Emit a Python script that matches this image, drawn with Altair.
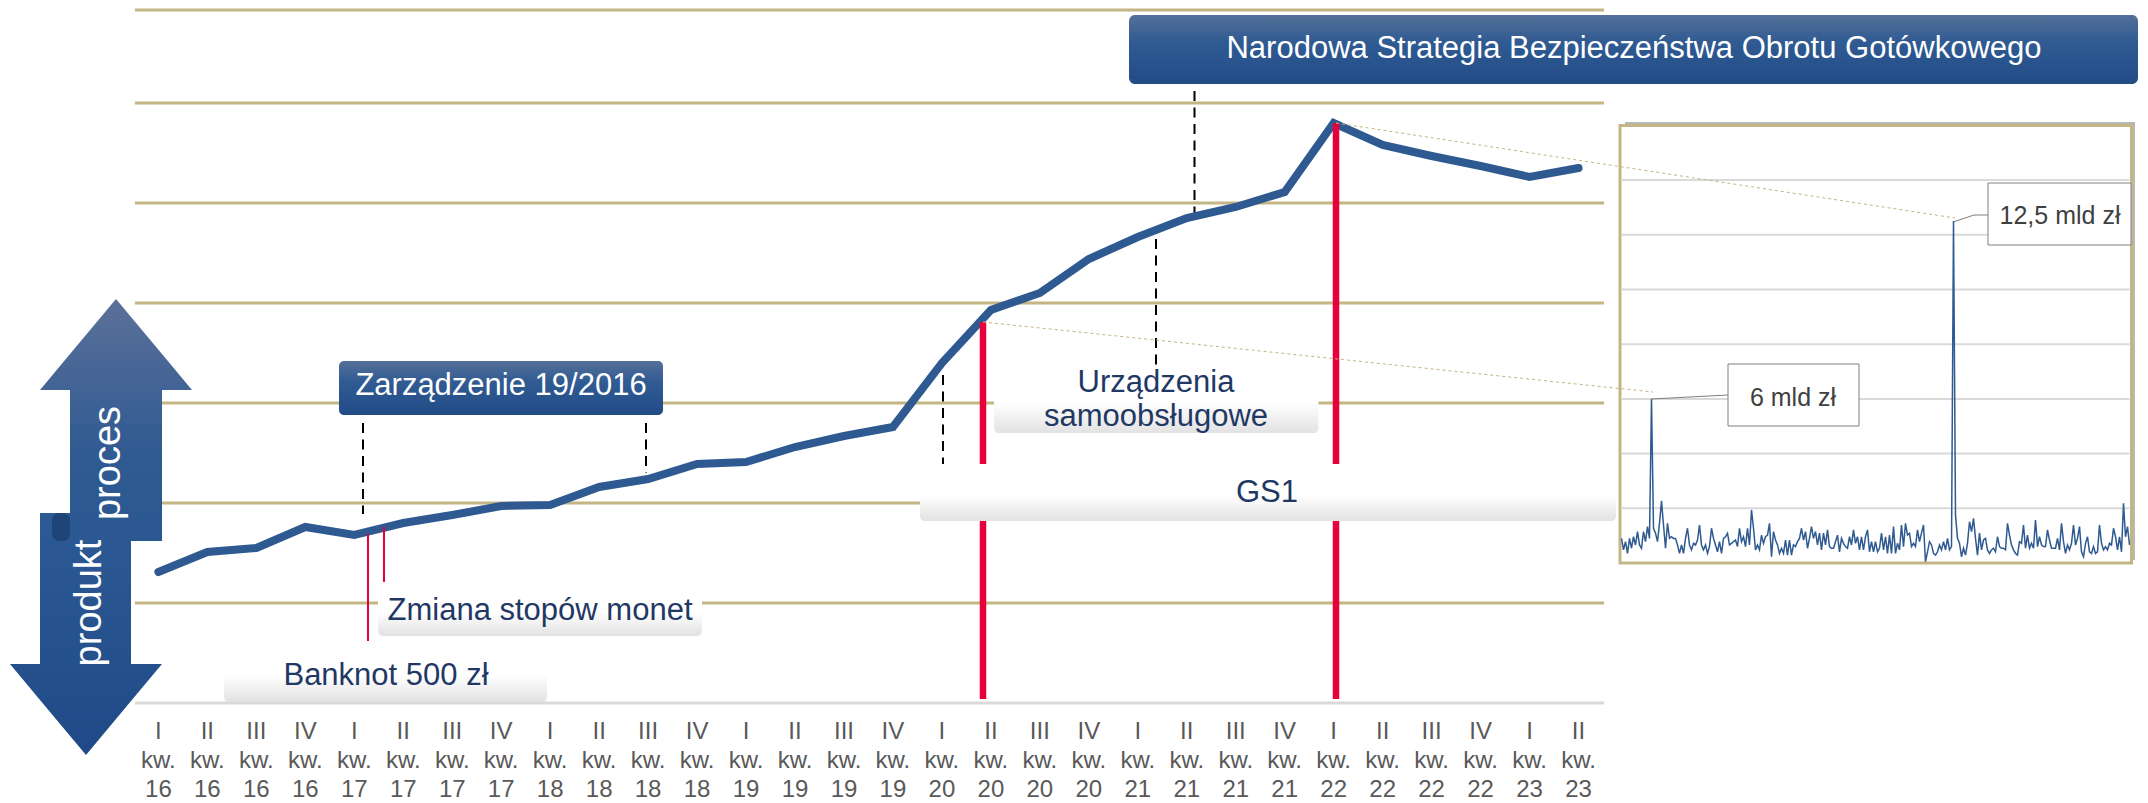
import altair as alt
import pandas as pd

FONT = "Liberation Sans"
NAVY_TEXT = "#1F3864"
TAN = "#C4B584"
RED = "#E6003C"
BLUE = "#2E5A91"

# ---- main series (quarters, arbitrary index value) ----
quarters = ["I", "II", "III", "IV", "I", "II", "III", "IV", "I", "II", "III", "IV", "I", "II", "III",
            "IV", "I", "II", "III", "IV", "I", "II", "III", "IV", "I", "II", "III", "IV", "I", "II"]
years = ["16"] * 4 + ["17"] * 4 + ["18"] * 4 + ["19"] * 4 + ["20"] * 4 + ["21"] * 4 + ["22"] * 4 + ["23"] * 2
main_values = [1.31, 1.51, 1.55, 1.76, 1.68, 1.80, 1.88, 1.97, 1.98, 2.16, 2.24, 2.39, 2.41, 2.56, 2.67,
               2.76, 3.40, 3.93, 4.10, 4.44, 4.66, 4.85, 4.96, 5.11, 5.80, 5.58, 5.47, 5.37, 5.26, 5.35]
grid_values = [1, 2, 3, 4, 5, 6, 6.93]

# ---- inset series (daily, mld zł) ----
inset_values = [
    0.90, 0.48, 0.78, 0.35, 0.90, 0.54, 0.96, 0.66, 1.15, 0.66, 0.54, 1.15, 0.78, 1.33, 0.90,
    6.00,
    1.27, 1.09, 0.78, 1.45, 2.27, 1.39, 0.54, 1.45, 0.90, 0.96, 0.90, 0.90, 0.66, 0.35, 0.66, 0.35,
    0.90, 1.27, 0.66, 0.48, 0.72, 0.66, 0.84, 1.39, 0.66, 0.48, 0.66, 0.35, 0.60, 1.27, 0.90, 0.66,
    0.41, 0.78, 0.35, 0.90, 0.96, 1.09, 0.66, 0.72, 0.78, 0.84, 0.60, 1.27, 0.78, 0.96, 0.60, 1.27,
    0.66, 1.94, 1.27, 0.48, 0.66, 0.48, 1.02, 0.72, 0.96, 1.02, 1.45, 0.23, 1.15, 0.84, 0.66, 0.35,
    0.54, 0.35, 0.84, 0.29, 0.84, 0.29, 0.66, 0.60, 0.78, 0.90, 1.27, 0.84, 1.15, 0.54, 0.90, 1.33,
    0.90, 1.15, 0.66, 1.09, 0.48, 1.09, 0.66, 1.21, 0.60, 0.54, 0.54, 0.78, 1.02, 0.41, 0.90, 0.72,
    0.60, 0.54, 0.96, 0.66, 1.21, 0.72, 0.96, 0.48, 0.96, 0.48, 0.96, 1.21, 0.41, 0.78, 0.41, 0.78, 0.41,
    0.54, 1.09, 0.48, 0.96, 0.35, 1.02, 0.35, 1.33, 0.35, 0.72, 0.48, 1.39, 0.60, 1.45, 1.02, 1.09,
    0.60, 0.72, 0.60, 1.21, 0.78, 1.09, 1.39, 0.05, 0.41, 0.78, 0.66, 0.35, 0.29, 0.41, 0.66, 0.48,
    0.78, 0.48, 0.90, 0.48, 0.60,
    12.50,
    1.76, 0.90, 0.72, 0.23, 0.54, 0.29, 0.72, 1.51, 1.15, 1.63, 0.90, 0.29, 1.09, 0.48, 0.84, 0.90,
    0.48, 0.35, 0.48, 0.54, 0.41, 0.96, 0.60, 0.54, 0.54, 0.48, 1.45,
    1.02, 0.66, 0.48, 0.35, 0.29, 0.78, 0.72, 1.39, 0.54, 1.02, 0.54, 0.72, 0.54, 1.57, 0.60, 0.96,
    0.66, 0.60, 0.60, 1.21, 0.84, 0.54, 0.54, 0.54, 0.90, 0.48, 1.45, 0.78, 0.35, 0.66, 0.48, 0.72,
    1.39, 0.66, 0.90, 1.33, 0.41, 0.23, 0.72, 0.96, 0.41, 0.35, 0.60, 0.35, 0.41, 1.39, 0.72, 0.48,
    0.60, 0.48, 0.72, 0.66, 1.27, 0.96, 0.48, 0.96, 0.41, 2.18, 0.96, 1.33, 0.66,
]
inset_grid = [2, 4, 6, 8, 10, 12, 14]

# ---- scales ----
X_PAGE = alt.Scale(domain=[8, 2140], range=[0, 2132])
Y_PAGE = alt.Scale(domain=[8, 803], range=[0, 795])
X_Q = alt.Scale(domain=[0, 29], range=[158.4 - 8, 158.4 + 29 * 48.97 - 8])
Y_V = alt.Scale(domain=[0, 7], range=[703 - 8, 3 - 8])
X_D = alt.Scale(domain=[0, 254], range=[1621.5 - 8, 1621.5 + 508 - 8])
Y_B = alt.Scale(domain=[0, 16], range=[563 - 8, 125.4 - 8])


def grad(*stops):
    return alt.LinearGradient(
        gradient="linear", x1=0, x2=0, y1=0, y2=1,
        stops=[alt.GradientStop(color=c, offset=o) for o, c in stops],
    )


def px(field):
    return alt.X(field, type="quantitative", scale=X_PAGE, axis=None)


def py(field):
    return alt.Y(field, type="quantitative", scale=Y_PAGE, axis=None)


def frame(**cols):
    return pd.DataFrame(cols)


def box(x0, x1, y0, y1, fill, **kw):
    return alt.Chart(frame(a=[x0], b=[x1], c=[y0], d=[y1])).mark_rect(color=fill, **kw).encode(
        x=px("a"), x2="b", y=py("c"), y2="d")


def label(x, y, text, size=31, color=NAVY_TEXT, **kw):
    return alt.Chart(frame(a=[x], c=[y], t=[text])).mark_text(
        font=FONT, fontSize=size, color=color, **kw).encode(x=px("a"), y=py("c"), text="t:N")


def seg(x0, y0, x1, y1, **kw):
    return alt.Chart(frame(a=[x0], b=[x1], c=[y0], d=[y1])).mark_rule(**kw).encode(
        x=px("a"), x2="b", y=py("c"), y2="d")


def poly(xs, ys, stroke, width):
    return alt.Chart(frame(a=xs, c=ys, o=list(range(len(xs))))).mark_line(
        color=stroke, strokeWidth=width).encode(x=px("a"), y=py("c"), order="o:Q")


def arrow(xs, top, bottom, fill):
    return alt.Chart(frame(a=xs, c=top, d=bottom)).mark_area(color=fill, interpolate="linear").encode(
        x=px("a"), y=py("c"), y2="d")


WHITE_GREY = grad((0, "#FFFFFF"), (0.55, "#FFFFFF"), (1, "#E2E2E2"))
BLUE_BOX = grad((0, "#547099"), (0.4, "#2F5A92"), (1, "#234C86"))

layers = []

# gridlines and baseline
qdf = pd.DataFrame({"q": list(range(30)), "v": main_values, "q_lab": quarters, "yr": years})
gdf = pd.DataFrame({"g": grid_values, "a": [-0.48] * len(grid_values), "b": [29.52] * len(grid_values)})
layers.append(alt.Chart(gdf).mark_rule(color=TAN, strokeWidth=3).encode(
    x=alt.X("a:Q", scale=X_Q, axis=None), x2="b", y=alt.Y("g:Q", scale=Y_V, axis=None)))
layers.append(seg(135, 703, 1604, 703, color="#D9D9D9", strokeWidth=3))

# dashed markers
for x0, y0, y1 in [(363, 423, 514), (646, 423, 473), (943, 375, 467), (1156, 239, 365), (1194.5, 91, 214)]:
    layers.append(seg(x0, y0, x0, y1, color="#000000", strokeWidth=2, strokeDash=[10, 6.5]))

# main line
layers.append(alt.Chart(qdf).mark_line(color=BLUE, strokeWidth=8, strokeCap="round", strokeJoin="miter").encode(
    x=alt.X("q:Q", scale=X_Q, axis=None), y=alt.Y("v:Q", scale=Y_V, axis=None)))

# red markers
layers.append(seg(368, 534, 368, 641, color=RED, strokeWidth=2))
layers.append(seg(384, 527, 384, 582, color=RED, strokeWidth=2))
layers.append(seg(983, 322, 983, 699, color=RED, strokeWidth=6.5))
layers.append(seg(1336, 123, 1336, 699, color=RED, strokeWidth=6.5))

# light callouts
layers.append(box(378, 702, 582, 636, WHITE_GREY, cornerRadius=5))
layers.append(box(224, 547, 641, 702, WHITE_GREY, cornerRadius=5))
layers.append(box(994, 1318.5, 365, 433, WHITE_GREY, cornerRadius=5))
layers.append(box(920, 1616, 464, 521, WHITE_GREY, cornerRadius=5))
layers.append(label(540, 611, "Zmiana stopów monet"))
layers.append(label(386, 676, "Banknot 500 zł"))
layers.append(label(1156, 383, "Urządzenia"))
layers.append(label(1156, 417, "samoobsługowe"))
layers.append(label(1267, 493, "GS1"))

# dark banners
layers.append(box(339, 663, 361, 415, BLUE_BOX, cornerRadius=5))
layers.append(label(501, 386, "Zarządzenie 19/2016", color="#FFFFFF"))
layers.append(box(1129, 2138, 15, 84, BLUE_BOX, cornerRadius=6))
layers.append(label(1634, 49, "Narodowa Strategia Bezpieczeństwa Obrotu Gotówkowego", size=31, color="#FFFFFF"))

# double arrow
layers.append(arrow([10, 40, 40, 86, 131, 131, 162], [664, 664, 513, 513, 513, 664, 664],
                    [664, 700, 700, 755, 701, 701, 664],
                    grad((0, "#2D5A94"), (1, "#1F4A87"))))
layers.append(arrow([40, 70, 70, 116, 162, 162, 192], [390, 354, 354, 299, 354, 354, 390],
                    [390, 390, 541, 541, 541, 390, 390],
                    grad((0, "#5B7099"), (0.65, "#2F5A92"), (1, "#2B5891"))))
layers.append(box(52, 70, 513, 541, "#1F4578", cornerRadius=7))
layers.append(label(109, 463, "proces", size=38, color="#FFFFFF", angle=270))
layers.append(label(90, 603, "produkt", size=38, color="#FFFFFF", angle=270))

# quarter labels
layers.append(alt.Chart(qdf.assign(lab=[f"{a}\nkw.\n{b}" for a, b in zip(quarters, years)], row=[720] * 30)).mark_text(
    font=FONT, fontSize=24, color="#595959", lineBreak="\n", lineHeight=29, baseline="top").encode(
    x=alt.X("q:Q", scale=X_Q, axis=None), y=py("row"), text="lab:N"))

# inset
layers.append(box(1625, 2135, 122, 560, "#9A9A9A", opacity=0.7))
layers.append(box(1620, 2131.5, 125.5, 563, "#FFFFFF", stroke=TAN, strokeWidth=3))
igdf = pd.DataFrame({"g": inset_grid, "a": [0] * 7, "b": [254] * 7})
layers.append(alt.Chart(igdf).mark_rule(color="#D9D9D9", strokeWidth=2).encode(
    x=alt.X("a:Q", scale=X_D, axis=None), x2="b", y=alt.Y("g:Q", scale=Y_B, axis=None)))
idf = pd.DataFrame({"d": list(range(len(inset_values))), "v": inset_values})
layers.append(alt.Chart(idf).mark_line(color=BLUE, strokeWidth=1.5).encode(
    x=alt.X("d:Q", scale=X_D, axis=None), y=alt.Y("v:Q", scale=Y_B, axis=None)))

# connector lines
layers.append(seg(983, 322, 1653, 392, color=TAN, strokeWidth=1, strokeDash=[3, 3]))
layers.append(seg(1336, 123, 1955, 218, color=TAN, strokeWidth=1, strokeDash=[3, 3]))

# inset callouts
layers.append(poly([1651, 1728], [399, 395], "#808080", 1))
layers.append(poly([1954, 1974, 1988], [221.7, 215, 215], "#808080", 1))
layers.append(box(1728, 1859, 364, 426, "#FFFFFF", stroke="#808080", strokeWidth=1))
layers.append(box(1988, 2131, 183, 245, "#FFFFFF", stroke="#808080", strokeWidth=1))
layers.append(label(1793, 398, "6 mld zł", size=25, color="#404040"))
layers.append(label(2060, 216, "12,5 mld zł", size=25, color="#404040"))

chart = (
    alt.layer(*layers)
    .resolve_scale(x="independent", y="independent")
    .properties(width=2132, height=795, padding=0, autosize=alt.AutoSizeParams(type="none"))
    .configure_view(stroke=None)
)

chart.save("out.html", embed_options={"renderer": "svg", "actions": False})
